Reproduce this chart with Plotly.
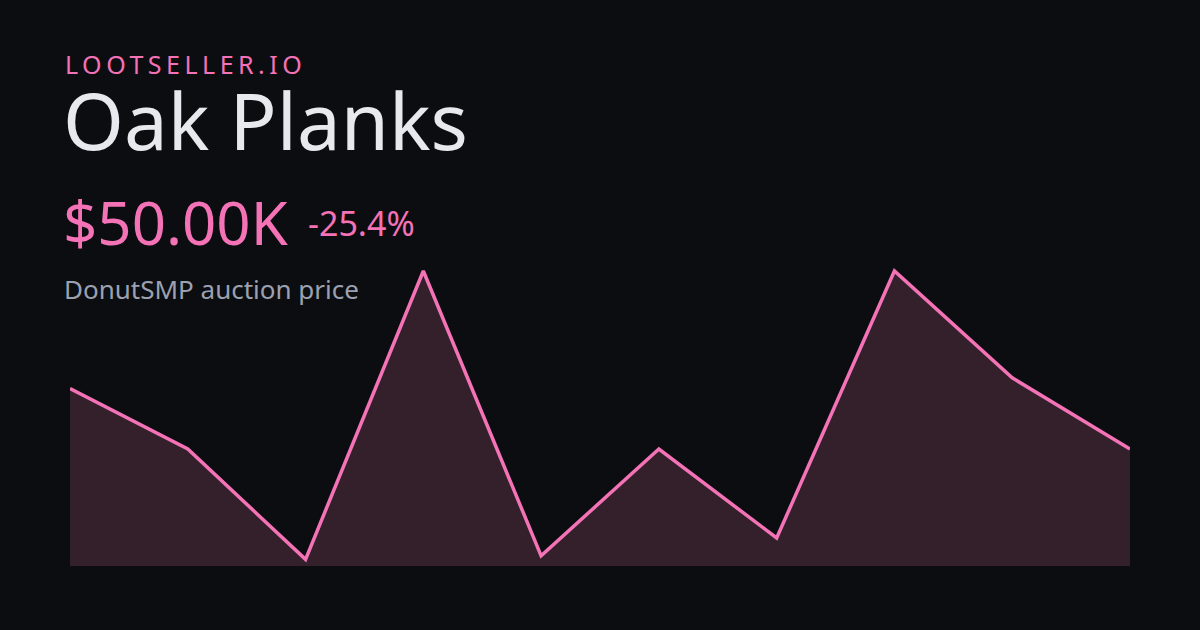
import plotly.graph_objects as go

# Data
days = list(range(10))
prices = [67000, 50000, 19000, 100000, 20000, 50000, 25000, 100000, 70000, 50000]
brand = "LOOTSELLER.IO"
item = "Oak Planks"
price_label = "$50.00K"
change_label = "-25.4%"
subtitle = "DonutSMP auction price"

W, H = 1200, 630
PINK = "#f472b6"
BG = "#0c0d10"

def px(x):
    return x / W

def py(y):
    return 1 - y / H

fig = go.Figure()
fig.add_trace(go.Scatter(
    x=days, y=prices, mode="lines",
    line=dict(color=PINK, width=3.5),
    fill="tozeroy", fillcolor="#33202b",
    hoverinfo="skip",
))

font = "Noto Sans"
annots = [
    dict(text='<span style="letter-spacing:4.5px">' + brand + '</span>', x=px(63), y=py(64), size=25, color=PINK),
    dict(text=item, x=px(61), y=py(120), size=78, color="#e8e9ee"),
    dict(text=price_label, x=px(61), y=py(222), size=60, color=PINK),
    dict(text=change_label, x=px(306), y=py(223), size=34, color=PINK),
    dict(text=subtitle, x=px(62), y=py(289), size=26, color="#9ba1b0"),
]
for a in annots:
    fig.add_annotation(
        text=a["text"], x=a["x"], y=a["y"], xref="paper", yref="paper",
        xanchor="left", yanchor="middle", showarrow=False,
        font=dict(family=font, size=a["size"], color=a["color"]),
    )

fig.update_layout(
    width=W, height=H,
    margin=dict(l=0, r=0, t=0, b=0),
    paper_bgcolor=BG, plot_bgcolor="rgba(0,0,0,0)",
    showlegend=False,
    xaxis=dict(domain=[px(70), px(1130)], range=[0, 9], visible=False, fixedrange=True),
    yaxis=dict(domain=[py(566), py(250)], range=[17135, 105900], visible=False, fixedrange=True),
)
fig.write_html(
    "out.html",
    config={"displayModeBar": False},
    post_script="document.body.style.margin='0';document.body.style.background='#0c0d10';",
)
